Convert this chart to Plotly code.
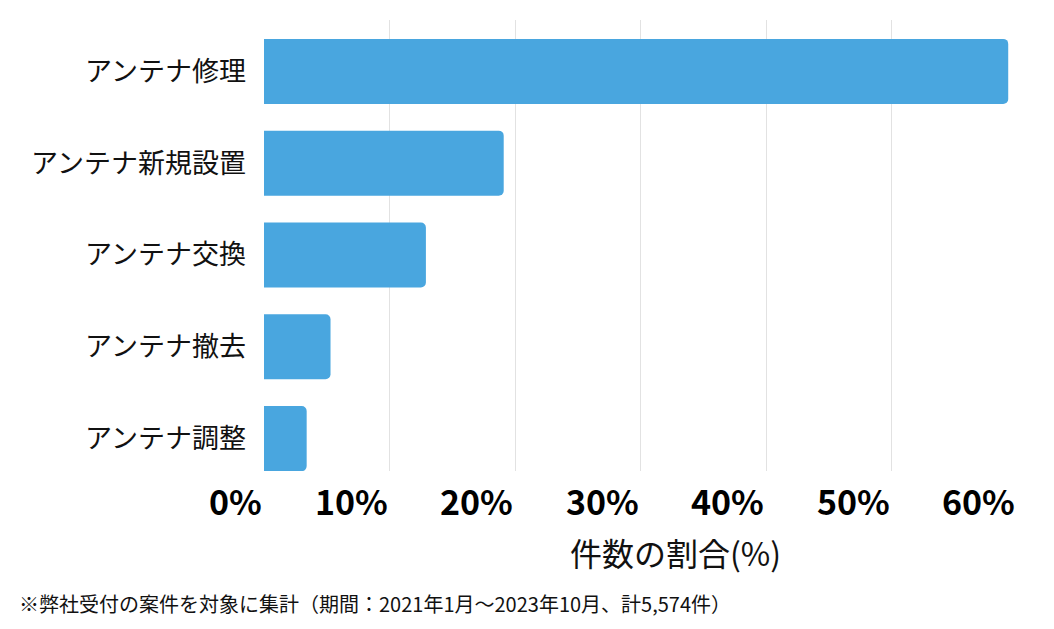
import plotly.graph_objects as go

# categories and shares (%)
categories = ["アンテナ修理", "アンテナ新規設置", "アンテナ交換", "アンテナ撤去", "アンテナ調整"]
shares = [59.3, 19.1, 12.9, 5.3, 3.4]

tick_values = [0, 10, 20, 30, 40, 50, 60]
tick_labels = ["0%", "10%", "20%", "30%", "40%", "50%", "60%"]

axis_title = "件数の割合(%)"
footnote = "※弊社受付の案件を対象に集計（期間：2021年1月〜2023年10月、計5,574件）"

JP = "Noto Sans CJK JP"

fig = go.Figure()
fig.add_bar(
    x=shares,
    y=categories,
    orientation="h",
    marker=dict(color="#49a6df", line=dict(width=0)),
    hoverinfo="skip",
)

# tick labels sit right-aligned to their gridline, so they are annotations
for v, lab in zip(tick_values, tick_labels):
    fig.add_annotation(
        x=v, y=0, xref="x", yref="paper",
        text=lab, showarrow=False,
        xanchor="right", yanchor="middle", yshift=-29,
        font=dict(family=JP, size=34, color="#000000", weight="bold"),
    )

fig.add_annotation(
    x=0.547, y=0, xref="paper", yref="paper",
    text=axis_title, showarrow=False,
    xanchor="center", yanchor="middle", yshift=-81,
    font=dict(family=JP, size=32, color="#111111"),
)

# footnote, left edge at about 17px from the page edge
fig.add_annotation(
    x=(17 - 264) / (1017 - 264), y=0, xref="paper", yref="paper",
    text=footnote, showarrow=False,
    xanchor="left", yanchor="middle", yshift=-132,
    font=dict(family=JP, size=20, color="#111111"),
)

# page body has an 8px margin, so the figure is 8px smaller and shifted
fig.update_layout(
    width=1046,
    height=621,
    margin=dict(l=256, r=37, t=12, b=158),
    paper_bgcolor="white",
    plot_bgcolor="white",
    bargap=0.29,
    barcornerradius=5,
    showlegend=False,
    font=dict(family=JP, color="#111111"),
)

fig.update_xaxes(
    range=[0, 60],
    tickvals=tick_values,
    showticklabels=False,
    showgrid=True,
    gridcolor="#e2e2e2",
    gridwidth=1,
    zeroline=False,
    showline=False,
    fixedrange=True,
)

fig.update_yaxes(
    categoryorder="array",
    categoryarray=categories,
    range=[4.354, -0.561],
    showgrid=False,
    zeroline=False,
    showline=False,
    ticks="",
    ticklabelstandoff=17,
    tickfont=dict(family=JP, size=27, color="#111111"),
    fixedrange=True,
)

fig.write_html("out.html")
